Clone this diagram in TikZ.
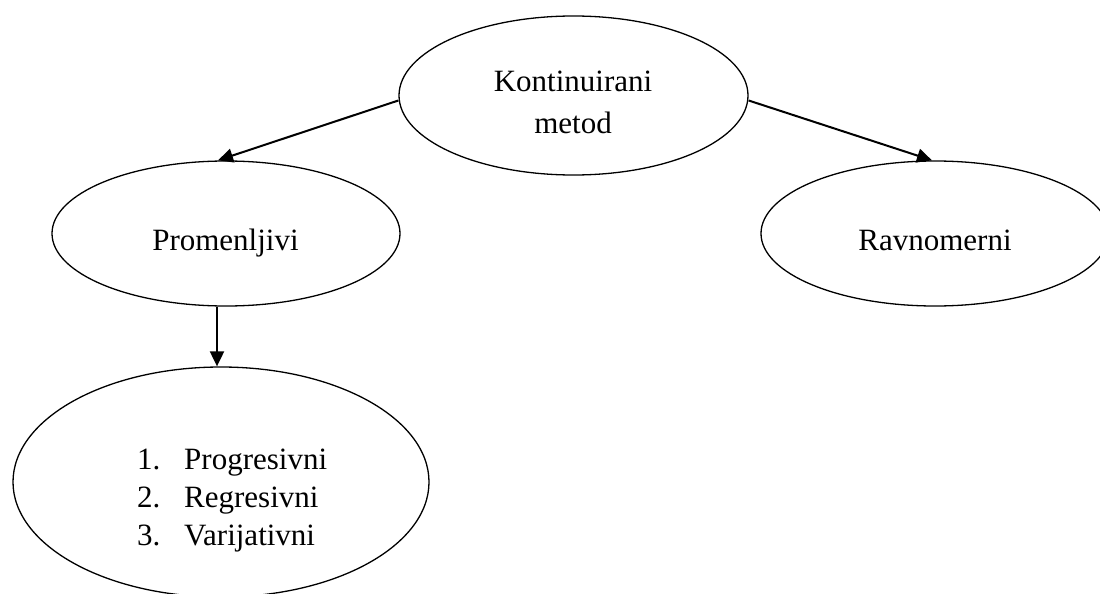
\documentclass[tikz,border=0pt]{standalone}
\usepackage{fontspec}
\setmainfont{Liberation Serif}
\usetikzlibrary{shapes.geometric,arrows.meta}
\begin{document}
\begin{tikzpicture}[x=1pt,y=-1pt,
  oval/.style={draw, ellipse, line width=1.3pt, inner sep=0pt},
  lbl/.style={anchor=base, inner sep=0pt, font=\fontsize{31}{41}\selectfont},
  lblw/.style={anchor=base west, inner sep=0pt, font=\fontsize{31}{41}\selectfont},
  arr/.style={-{Triangle[length=15pt,width=14pt]}, line width=2pt}]
\useasboundingbox (0,0) rectangle (1100,594);
\node[oval, minimum width=349pt, minimum height=159pt] (top) at (573.5,95.5) {};
\node[oval, minimum width=348pt, minimum height=145pt] (prom) at (226,233.5) {};
\node[oval, minimum width=348pt, minimum height=145pt] (ravn) at (935,233.5) {};
\node[oval, minimum width=416pt, minimum height=230pt] (bot) at (221,482) {};
\node[lbl] (t1) at (573,92) {Kontinuirani};
\node[lbl] (t2) at (573,133) {metod};
\node[lbl] (t3) at (225.5,250) {Promenljivi};
\node[lbl] (t4) at (935,250) {Ravnomerni};
\node[lblw] (n1) at (137,469) {1.};
\node[lblw] (n2) at (137,507) {2.};
\node[lblw] (n3) at (137,545) {3.};
\node[lblw] (i1) at (184,469) {Progresivni};
\node[lblw] (i2) at (184,507) {Regresivni};
\node[lblw] (i3) at (184,545) {Varijativni};
\draw[arr] ([yshift=-5pt]top.west) -- ([xshift=-8pt]prom.north);
\draw[arr] ([yshift=-5pt]top.east) -- ([xshift=-3pt]ravn.north);
\draw[arr] ([xshift=-9pt]prom.south) -- ([xshift=-4pt]bot.north);
\end{tikzpicture}
\end{document}
